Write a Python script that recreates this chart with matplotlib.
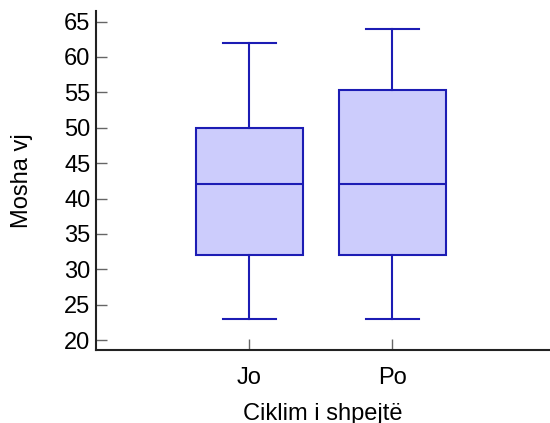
import matplotlib.pyplot as plt

plt.rcParams['font.family'] = ['Liberation Sans', 'DejaVu Sans']

# data
groups = ['Jo', 'Po']
q1 = [32, 32]
median = [42, 42]
q3 = [50, 55.3]
whislo = [23, 23]
whishi = [62, 64]

stats = []
for i in range(len(groups)):
    stats.append({'label': groups[i], 'q1': q1[i], 'med': median[i], 'q3': q3[i],
                  'whislo': whislo[i], 'whishi': whishi[i], 'fliers': []})

edge = '#1c1cb4'
fig = plt.figure(figsize=(5.5, 4.23), dpi=100)
ax = fig.add_axes([0.1745, 0.1726, 0.8255, 0.8014])

ax.bxp(stats, positions=[1, 2], widths=0.745, patch_artist=True, showfliers=False,
       boxprops=dict(facecolor='#ccccfc', edgecolor=edge, linewidth=1.5),
       medianprops=dict(color=edge, linewidth=1.5),
       whiskerprops=dict(color=edge, linewidth=1.5),
       capprops=dict(color=edge, linewidth=1.5), capwidths=0.37)

ax.set_xlim(-0.07, 3.1)
ax.set_ylim(18.6, 66.5)
ax.set_yticks(range(20, 66, 5))
ax.set_xticks([1, 2])
ax.set_xticklabels(groups)

for s in ['top', 'right']:
    ax.spines[s].set_visible(False)
for s in ['left', 'bottom']:
    ax.spines[s].set_linewidth(1.5)
    ax.spines[s].set_color('#222222')

ax.tick_params(direction='in', length=8, width=1, color='#666666', labelsize=17)
ax.tick_params(axis='y', pad=4)
ax.tick_params(axis='x', pad=12)
ax.set_ylabel('Mosha vj', fontsize=17, labelpad=22)
ax.set_xlabel('Ciklim i shpejtë', fontsize=17, labelpad=10)

fig.savefig('out.png')
